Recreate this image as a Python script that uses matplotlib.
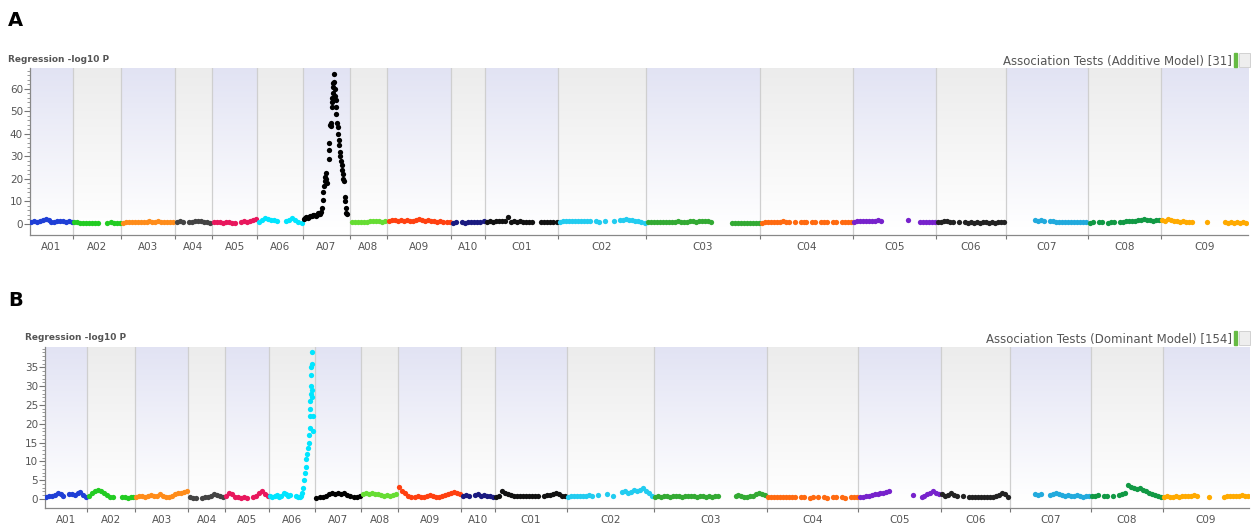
#manhattan plots, additive and dominant model
import numpy as np
import matplotlib.pyplot as plt

# chromosome names, lengths (Mb) and point colours
chroms = ["A01", "A02", "A03", "A04", "A05", "A06", "A07", "A08", "A09", "A10",
          "C01", "C02", "C03", "C04", "C05", "C06", "C07", "C08", "C09"]
lengths = [22.6, 25.3, 28.4, 19.5, 23.7, 24.2, 24.7, 19.5, 33.7, 17.9,
           38.4, 46.3, 60.0, 48.9, 43.7, 36.8, 43.2, 38.4, 45.8]
colors = ["#1f3fd6", "#22cc22", "#ff8c1a", "#444444", "#e8175d", "#00e5ff", "#000000",
          "#66dd33", "#ff4010", "#1a1a80", "#111111", "#22ccf0", "#33aa33", "#ff6a10",
          "#7722cc", "#222222", "#22aadd", "#119944", "#ffaa00"]

N = None
# panel A: -log10 P along each chromosome (evenly spread, None = no marker)
add_vals = {
    "A01": [1.0, 1.2, 1.0, 1.3, 1.8, 2.4, 1.6, 1.0, 0.9, 1.1, 1.3, 1.2, 1.0, 1.2, 0.9],
    "A02": [0.8, 0.7, 0.6, 0.5, 0.6, 0.5, 0.5, 0.6, 0.5, N, N, 0.5, 0.7, 0.6, 0.5, 0.6],
    "A03": [0.6, 0.8, 0.7, 0.9, 0.8, 1.0, 0.8, 0.7, 0.9, 1.1, 1.0, 0.8, 1.2, 1.0, 0.9, 0.8, 1.0, 0.9],
    "A04": [0.9, 1.1, 0.8, N, 0.7, 1.0, 1.3, 1.5, 1.1, 0.9, 0.7, 0.6],
    "A05": [0.9, 0.7, 0.8, 0.6, 0.8, 0.7, 0.5, 0.6, N, 0.8, 1.2, 1.0, 1.5, 1.8, 2.0],
    "A06": [1.0, 1.8, 2.5, 2.2, 1.8, 1.6, 1.5, N, N, 1.4, 1.9, 2.6, 1.7, 1.0, 0.5],
    "A08": [0.7, 0.8, 0.7, 0.9, 0.8, 1.0, 1.2, 1.4, 1.1, 1.3, 1.0, 1.2],
    "A09": [1.3, 1.6, 1.8, 1.5, 1.9, 1.4, 1.7, 1.2, 1.5, 1.8, 2.0, 1.6, 1.4, 1.8, 1.5, 1.2,
            1.0, 1.1, 0.9, 0.8, 0.8],
    "A10": [0.6, 0.7, N, 0.8, 0.6, 0.7, 0.9, 0.8, 1.0, 0.9, 1.2],
    "C01": [0.9, 1.2, 1.0, 1.4, 1.1, 1.3, 1.2, 3.2, 1.0, 1.2, 0.9, 1.1, 0.8, 0.9, 1.0, 0.8,
            N, N, 0.7, 0.8, 0.9, 0.7, 0.8, 0.7],
    "C02": [1.0, 1.3, 1.1, 1.4, 1.2, 1.5, 1.3, 1.1, 1.4, 1.2, 1.1, N, 1.3, 1.0, N, 1.2,
            N, N, 1.4, N, 1.6, 1.8, 2.0, 1.9, 1.7, 1.5, 1.3, 0.7, 0.5],
    "C03": [0.7, 0.8, 0.9, 0.8, 0.9, 1.0, 0.8, 0.9, 1.0, 0.9, 1.1, 1.0, 0.9, 1.0, 1.1, 1.2,
            1.0, 1.1, 1.3, 1.2, 1.1, 1.0, N, N, N, N, N, N, 0.4, 0.5, 0.4, 0.3, 0.4, 0.5,
            0.4, 0.5, 0.4, 0.5],
    "C04": [0.6, 0.8, 0.7, 0.9, 1.0, 0.8, 0.9, 1.1, 0.9, 1.0, N, 0.8, N, 0.7, 0.8, 0.9,
            N, 0.8, 0.9, N, 0.7, 0.8, 0.9, N, 0.8, 0.7, N, 0.8, 0.9, 0.8, 0.7],
    "C05": [1.0, 1.1, 1.3, 1.2, 1.4, 1.3, 1.5, 1.4, 1.6, 1.5, N, N, N, N, N, N, N, N,
            1.8, N, N, N, 0.7, 0.8, 0.9, 0.8, 1.0, 0.9],
    "C06": [0.9, 1.0, 1.2, 1.1, 1.0, 0.9, N, 0.8, N, 0.7, 0.6, 0.7, 0.6, 0.7, 0.6, 0.7,
            0.8, 0.6, 0.7, 0.6, 0.7, 0.8, 0.7],
    "C07": [N, N, N, N, N, N, N, N, N, 1.8, 1.5, 1.7, 1.4, N, 1.3, 1.2, 1.0, 0.8, 0.9,
            0.7, 0.8, 0.9, 0.8, 0.7, 0.8, 0.9, 0.8],
    "C08": [0.6, 0.7, N, 0.8, 0.7, N, 0.6, 0.8, 0.9, N, 0.8, 1.0, 1.1, 1.3, 1.2, 1.5,
            1.8, 1.6, 2.0, 1.7, 1.9, 1.5, 1.6, 1.8],
    "C09": [1.8, 1.5, 2.0, 1.6, 1.3, 1.5, 1.0, 1.1, 0.9, 0.8, 0.7, N, N, N, N, 0.8,
            N, N, N, N, N, 0.7, 0.6, 0.7, 0.6, 0.7, 0.6, 0.7, 0.6],
}
# A07 peak in panel A, explicit positions (Mb) and values
add_a07_pos = [0.4, 1.1, 1.8, 2.5, 3.2, 3.9, 4.6, 5.3, 6.0, 6.7, 7.4, 8.1, 8.8, 9.3,
               9.8, 10.3, 10.7, 11.1, 11.5, 11.8, 12.0, 12.3, 12.6,
               13.4, 13.5, 13.7, 14.3, 14.5, 14.8, 15.0, 15.2, 15.4, 15.6, 15.8, 16.0,
               16.3, 16.5, 16.7, 16.9, 17.1, 17.3, 17.6, 17.9, 18.2, 18.5, 18.8, 19.1,
               19.4, 19.7, 20.0, 20.3, 20.6, 20.9, 21.2, 21.6, 21.9, 22.2, 22.5, 22.8, 23.1]
add_a07_val = [2.2, 2.8, 3.0, 2.6, 3.3, 3.6, 3.4, 3.8, 4.0, 3.5, 4.2, 4.8, 4.5, 5.5,
               7.0, 10.5, 14.0, 17.0, 19.0, 21.0, 22.5, 20.0, 18.0,
               29.0, 33.0, 36.0, 44.0, 45.0, 43.5, 52.0, 54.0, 56.0, 58.0, 61.0, 62.5,
               66.5, 63.0, 60.0, 57.0, 55.0, 52.0, 49.0, 45.0, 43.0, 40.0, 37.5, 35.0,
               32.0, 30.0, 28.0, 26.0, 24.0, 22.0, 20.0, 19.0, 12.0, 10.0, 7.0, 5.0, 4.5]

# panel B
dom_vals = {
    "A01": [0.6, 0.8, 0.7, 1.0, 1.7, 1.3, 0.9, N, 1.2, 1.4, 1.1, 1.5, 1.8, 1.0, 0.4],
    "A02": [0.8, 1.5, 2.0, 2.3, 2.0, 1.5, 1.0, 0.6, 0.4, N, N, 0.5, 0.4, 0.3, 0.4, 0.5],
    "A03": [0.5, 0.7, 0.9, 0.6, 0.8, 1.0, 0.7, 0.9, 1.2, 0.8, 0.5, 0.6, 0.8, 1.2, 1.5, 1.7, 1.9, 2.0],
    "A04": [0.4, 0.3, 0.2, N, 0.3, 0.5, 0.6, 0.9, 1.3, 1.0, 0.7, 0.5],
    "A05": [0.8, 1.6, 1.2, 0.5, 0.4, 0.3, 0.4, 0.3, N, 0.5, 0.8, 1.5, 2.0, 1.3, 0.8],
    "A07": [0.3, 0.4, 0.6, 0.8, 1.2, 1.5, 1.3, 1.7, 1.2, 1.6, 1.0, 0.8, 0.6, 0.5, 0.7],
    "A08": [1.4, 1.5, 1.3, 1.6, 1.4, 1.2, 1.0, 0.9, 1.1, 0.8, 1.0, 1.2],
    "A09": [3.2, 2.2, 1.5, 0.8, 0.6, 0.5, 0.7, 0.5, 0.6, 0.8, 1.0, 0.7, 0.5, 0.6, 0.8, 1.0,
            1.3, 1.5, 1.8, 1.6, 1.2],
    "A10": [0.9, 1.1, 0.8, N, 1.0, 1.2, 0.9, 1.1, 0.8, 0.7, 0.6],
    "C01": [0.6, 0.8, 2.0, 1.7, 1.3, 1.0, 0.9, 0.8, 0.7, 0.9, 0.8, 0.7, 0.8, 0.9, 0.8, N,
            0.9, 1.0, 1.1, 1.3, 1.6, 1.2, 0.9, 0.8],
    "C02": [0.6, 0.8, 0.7, 0.9, 0.8, 0.7, 0.9, 1.0, 0.8, N, 1.1, N, N, 1.2, N, 0.9, N, N,
            1.8, 2.0, 1.6, 1.9, 2.3, 2.0, 2.5, 2.8, 2.2, 1.5, 0.8],
    "C03": [0.6, 0.7, 0.6, 0.8, 0.7, 0.6, 0.7, 0.8, 0.7, 0.6, 0.7, 0.8, 0.9, 0.7, 0.6, 0.8,
            0.7, 0.6, 0.7, 0.6, 0.8, 0.7, N, N, N, N, N, 0.8, 1.0, 0.7, 0.6, 0.5, 0.7, 0.9,
            1.3, 1.7, 1.4, 1.0],
    "C04": [0.4, 0.5, 0.4, 0.5, 0.4, 0.5, 0.6, 0.5, 0.4, 0.5, N, 0.5, 0.4, N, 0.3, 0.4,
            N, 0.4, N, 0.5, 0.3, N, 0.4, 0.5, N, 0.4, 0.3, N, 0.5, 0.4, 0.4],
    "C05": [0.4, 0.6, 0.7, 0.9, 1.0, 1.2, 1.4, 1.5, 1.7, 1.9, 2.1, N, N, N, N, N, N, N,
            1.0, N, N, 0.5, 0.8, 1.2, 1.6, 2.0, 1.5, 1.2],
    "C06": [1.3, 0.9, 1.1, 1.6, 1.0, 0.8, N, 0.8, N, 0.4, 0.5, 0.4, 0.5, 0.4, 0.6, 0.5,
            0.4, 0.6, 0.8, 1.0, 1.5, 1.2, 0.6],
    "C07": [N, N, N, N, N, N, N, N, 1.2, 1.0, 1.3, N, N, 1.0, 1.3, 1.5, 1.2, 1.0, 0.8,
            1.1, 0.9, 0.7, 1.0, 0.8, 0.6, 0.9, 0.7],
    "C08": [0.9, 0.8, 1.0, N, 0.9, 0.8, N, 0.9, N, 1.0, 1.3, 1.5, 3.6, 3.2, 3.0, 2.6,
            2.8, 2.3, 2.0, 1.7, 1.4, 1.1, 0.8, 0.6],
    "C09": [0.6, 0.7, 0.5, 0.6, 0.7, 0.6, 0.8, 0.7, 0.9, 0.8, 1.0, 0.7, N, N, N, 0.5,
            N, N, N, N, 0.6, 0.7, 0.8, 0.7, 0.9, 0.8, 1.0, 0.9, 0.8],
}
# A06 peak in panel B
dom_a06_pos = [0.3, 1.5, 2.7, 3.9, 5.1, 6.3, 7.5, 8.7, 9.9, 11.1,
               14.2, 15.1, 16.0, 16.9,
               17.4, 17.9, 18.3, 18.8, 19.2, 19.7, 20.2, 20.6, 20.9,
               21.2, 21.4, 21.5, 21.7, 21.8, 22.0, 22.1, 22.2, 22.3, 22.4, 22.5,
               22.7, 22.9, 23.1, 23.4]
dom_a06_val = [0.8, 0.5, 0.7, 1.0, 0.6, 0.9, 1.5, 1.2, 0.8, 1.0,
               0.7, 0.5, 0.6, 0.8,
               1.5, 3.0, 5.0, 7.0, 8.6, 10.5, 12.0, 13.5, 15.0,
               17.0, 19.0, 22.0, 24.0, 26.0, 28.0, 30.0, 33.0, 35.0, 36.0, 39.0,
               29.0, 27.0, 22.0, 18.0]

starts = np.concatenate([[0], np.cumsum(lengths)[:-1]])
total = sum(lengths)
band_top = {0: np.array([0.885, 0.89, 0.955]), 1: np.array([0.925, 0.925, 0.925])}


def manhattan(ax, vals, peak_chrom, peak_pos, peak_val, ymin, ymax, ytop, major, minor):
    # shaded chromosome bands fading to white
    frac = np.linspace(0, 1, 200)[:, None]
    for i, c in enumerate(chroms):
        top = band_top[i % 2]
        fade = np.clip((frac - 0.05) / 0.95, 0, 1)
        img = 1 - fade[:, :, None] * (1 - top[None, None, :])
        ax.imshow(img, extent=(starts[i], starts[i] + lengths[i], ymin, ymax),
                  origin="lower", aspect="auto", zorder=0, interpolation="bilinear")
        if i > 0:
            ax.axvline(starts[i], color="#cfcfcf", lw=0.9, zorder=1)
    for i, c in enumerate(chroms):
        if c == peak_chrom:
            x = starts[i] + np.array(peak_pos)
            y = np.array(peak_val)
        else:
            y = np.array(vals[c], dtype=float)
            x = starts[i] + (np.arange(len(y)) + 0.5) / len(y) * lengths[i]
        ax.plot(x, y, "o", ms=3.8, color=colors[i], mec="none", zorder=3)
    ax.set_xlim(0, total)
    ax.set_ylim(ymin, ymax)
    ax.set_xticks(starts[1:], minor=False)
    ax.set_xticklabels([])
    ax.set_xticks(starts + np.array(lengths) / 2, minor=True)
    ax.set_xticklabels(chroms, minor=True)
    ax.tick_params(axis="x", which="major", length=3, color="#777777")
    ax.tick_params(axis="x", which="minor", length=0, pad=5, labelsize=7.5, labelcolor="#555555")
    ax.set_yticks(np.arange(0, ytop + 1, major))
    ax.set_yticks(np.arange(0, ymax, minor), minor=True)
    ax.tick_params(axis="y", which="major", length=4, color="#777777", labelsize=7.5,
                   labelcolor="#555555", pad=1)
    ax.tick_params(axis="y", which="minor", length=2, color="#888888")
    for s in ["top", "right"]:
        ax.spines[s].set_visible(False)
    for s in ["left", "bottom"]:
        ax.spines[s].set_color("#888888")
        ax.spines[s].set_linewidth(0.9)


fig = plt.figure(figsize=(12.56, 5.27), dpi=100)
axA = fig.add_axes([30 / 1256, 292 / 527, 1218 / 1256, 167 / 527])
manhattan(axA, add_vals, "A07", add_a07_pos, add_a07_val, -4.9, 69.3, 60, 10, 2)
axB = fig.add_axes([45 / 1256, 19 / 527, 1204 / 1256, 161 / 527])
manhattan(axB, dom_vals, "A06", dom_a06_pos, dom_a06_val, -2.4, 40.4, 35, 5, 1)

fig.text(8 / 1256, 1 - 20 / 527, "A", fontsize=14, fontweight="bold", va="center")
fig.text(8 / 1256, 1 - 300 / 527, "B", fontsize=14, fontweight="bold", va="center")
fig.text(8 / 1256, 1 - 60 / 527, "Regression -log10 P", fontsize=6.5, fontweight="bold",
         color="#555555", va="center")
fig.text(25 / 1256, 1 - 338 / 527, "Regression -log10 P", fontsize=6.5, fontweight="bold",
         color="#555555", va="center")
fig.text(1232 / 1256, 1 - 61 / 527, "Association Tests (Additive Model) [31]", fontsize=8.5,
         color="#555555", ha="right", va="center")
fig.text(1232 / 1256, 1 - 339 / 527, "Association Tests (Dominant Model) [154]", fontsize=8.5,
         color="#555555", ha="right", va="center")
# little legend icons next to the titles
for ytop in [53, 331]:
    fig.patches.append(plt.Rectangle((1234 / 1256, 1 - (ytop + 14) / 527), 3 / 1256, 14 / 527,
                                     transform=fig.transFigure, color="#66bb44"))
    fig.patches.append(plt.Rectangle((1239 / 1256, 1 - (ytop + 14) / 527), 11 / 1256, 14 / 527,
                                     transform=fig.transFigure, facecolor="#eeeeee",
                                     edgecolor="#cccccc", lw=0.6))

fig.savefig("out.png", dpi=100)
